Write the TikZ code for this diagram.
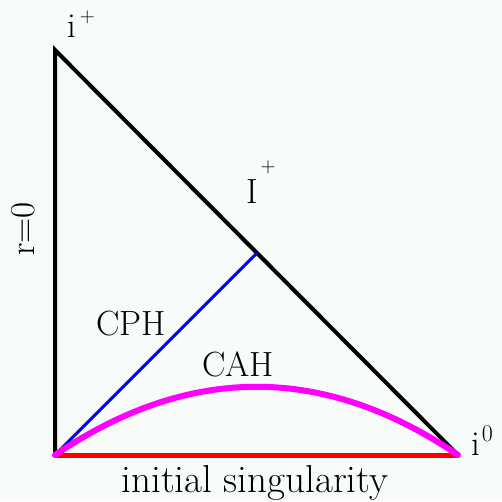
\documentclass[tikz,border=0pt]{standalone}
\definecolor{bg}{RGB}{248,252,248}
\definecolor{cahcol}{RGB}{255,0,255}
\definecolor{cphcol}{RGB}{0,0,255}
\definecolor{singcol}{RGB}{255,0,0}
\newcommand{\supr}[3][21]{\raisebox{#2}{\fontsize{#1}{#1}\selectfont#3}}
\tikzset{
  lbl/.style={inner sep=0pt, font=\fontsize{35}{42}\selectfont},
  biglbl/.style={inner sep=0pt, font=\fontsize{39}{46}\selectfont},
  edge/.style={line width=4pt, black, line cap=round, line join=miter},
}
\begin{document}
\begin{tikzpicture}[x=1pt,y=-1pt]
\fill[bg] (0,0) rectangle (502,501);
\useasboundingbox (0,0) rectangle (502,501);
\coordinate (top) at (55,50);
\coordinate (bl) at (55,455);
\coordinate (br) at (458,455);
\coordinate (mid) at (257,253);
% red initial singularity
\draw[singcol, line width=5pt] (bl) -- (br);
% black edges
\draw[edge] (bl) -- (top) -- (br);
% blue CPH
\draw[cphcol, line width=3pt] (bl) -- (mid);
% magenta CAH
\draw[cahcol, line width=6pt, line cap=round] (bl) .. controls (189,364) and (324,364) .. (br);
% labels
\node[lbl, anchor=base west] (iplus) at (67,37) {i\hspace{4pt}\supr{15pt}{$+$}};
\node[lbl, anchor=base west] (Iplus) at (246,203) {I\hspace{3pt}\supr{31pt}{$+$}};
\node[lbl, rotate=90] (r0) at (23,229) {r=0};
\node[lbl] (cph) at (131,324) {CPH};
\node[lbl] (cah) at (238,364) {CAH};
\node[lbl, anchor=base west] (izero) at (471,455) {i\hspace{2pt}\supr[24]{14pt}{0}};
\node[biglbl, anchor=base] (sing) at (255,492) {initial singularity};
\end{tikzpicture}
\end{document}
